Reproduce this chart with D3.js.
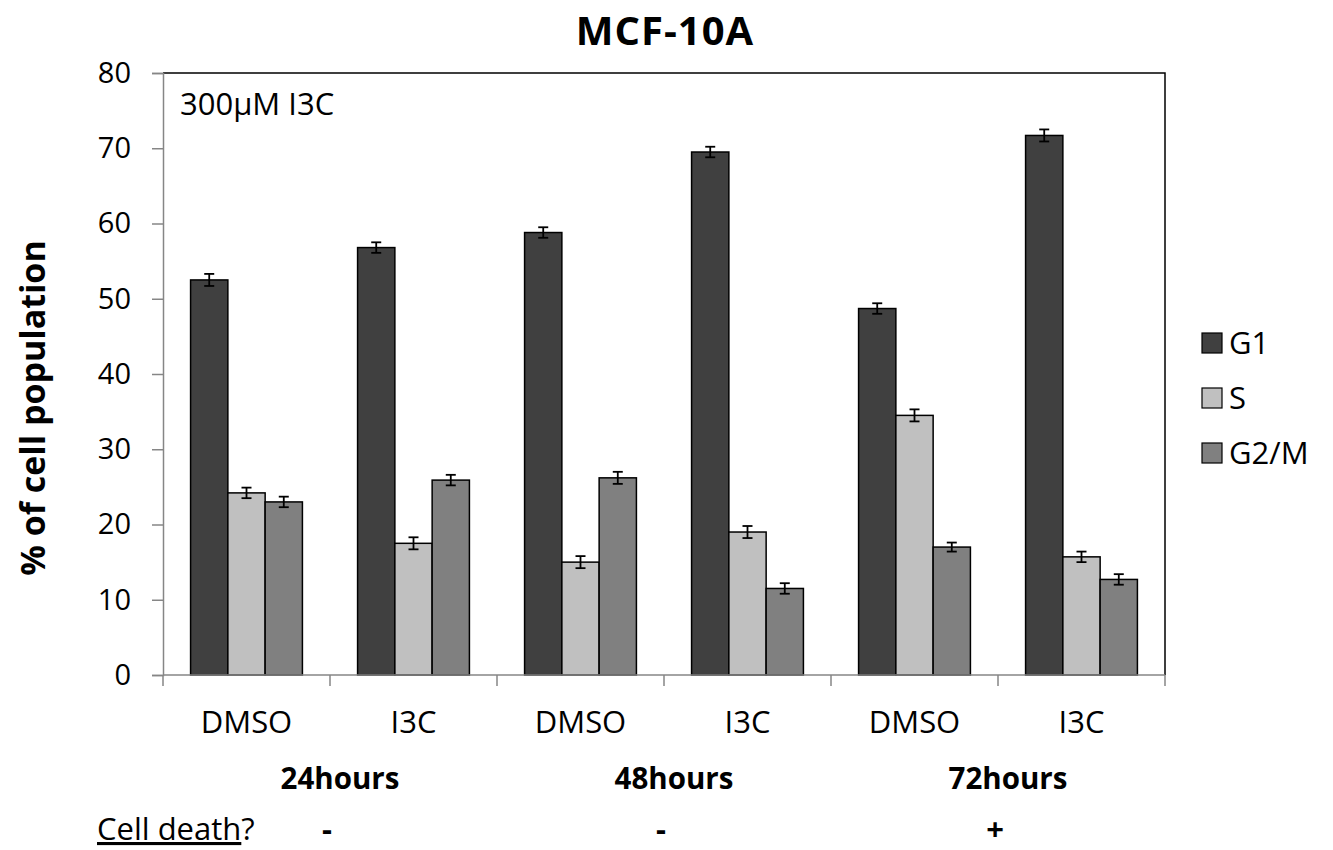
<!DOCTYPE html>
<html>
<head>
<meta charset="utf-8">
<script src="https://cdn.jsdelivr.net/npm/d3@7"></script>
<style>
  body { margin: 0; background: #fff; }
  svg { display: block; font-family: 'Open Sans', sans-serif; }
</style>
</head>
<body>
<div id="chart"></div>
<script>
// data
const conditions = ['24h-DMSO', '24h-I3C', '48h-DMSO', '48h-I3C', '72h-DMSO', '72h-I3C'];
const treatLabels = ['DMSO', 'I3C', 'DMSO', 'I3C', 'DMSO', 'I3C'];
const phases = ['G1', 'S', 'G2/M'];
const g1 = [52.5, 56.8, 58.8, 69.5, 48.7, 71.7];
const sPhase = [24.2, 17.5, 15.0, 19.0, 34.5, 15.7];
const g2m = [23.0, 25.9, 26.2, 11.5, 17.0, 12.7];
const g1Err = [0.8, 0.7, 0.7, 0.7, 0.7, 0.8];
const sErr = [0.7, 0.8, 0.8, 0.8, 0.8, 0.7];
const g2mErr = [0.7, 0.7, 0.8, 0.7, 0.6, 0.7];
const timepoints = ['24hours', '48hours', '72hours'];
const cellDeath = ['-', '-', '+'];
const yTicks = [0, 10, 20, 30, 40, 50, 60, 70, 80];

const colors = { 'G1': '#404040', 'S': '#c0c0c0', 'G2/M': '#808080' };

const rows = conditions.map((c, i) => ({
  cond: c,
  values: [
    { phase: 'G1', value: g1[i], err: g1Err[i] },
    { phase: 'S', value: sPhase[i], err: sErr[i] },
    { phase: 'G2/M', value: g2m[i], err: g2mErr[i] },
  ],
}));

const width = 1333;
const height = 850;
const area = { left: 163, right: 1165, top: 73, bottom: 675 };

const svg = d3.select('#chart')
  .append('svg')
  .attr('width', width)
  .attr('height', height);

const x0 = d3.scaleBand()
  .domain(conditions)
  .range([area.left, area.right]);

const x1 = d3.scaleBand()
  .domain(phases)
  .range([0, x0.bandwidth()])
  .paddingOuter(0.74);

const y = d3.scaleLinear()
  .domain([0, 80])
  .range([area.bottom, area.top]);

// plot frame: top and right black
svg.append('path')
  .attr('d', `M${area.left},${area.top}H${area.right}V${area.bottom}`)
  .attr('fill', 'none')
  .attr('stroke', '#000')
  .attr('stroke-width', 1.5);

// y axis
const yAxis = svg.append('g')
  .attr('transform', `translate(${area.left},0)`)
  .call(d3.axisLeft(y).tickValues(yTicks).tickSize(11).tickPadding(21));
yAxis.select('.domain').attr('stroke', '#868686').attr('stroke-width', 1.5);
yAxis.selectAll('.tick line').attr('stroke', '#868686').attr('stroke-width', 1.5);
yAxis.selectAll('.tick text')
  .attr('font-size', 29)
  .attr('font-family', "'Open Sans', sans-serif")
  .attr('fill', '#000');

// bars
const groups = svg.append('g')
  .selectAll('g')
  .data(rows)
  .join('g')
  .attr('transform', (d) => `translate(${x0(d.cond)},0)`);

groups.selectAll('rect')
  .data((d) => d.values)
  .join('rect')
  .attr('x', (d) => x1(d.phase))
  .attr('y', (d) => y(d.value))
  .attr('width', x1.bandwidth())
  .attr('height', (d) => y(0) - y(d.value))
  .attr('fill', (d) => colors[d.phase])
  .attr('stroke', '#000')
  .attr('stroke-width', 1.5);

// error bars
const errG = groups.selectAll('g.err')
  .data((d) => d.values)
  .join('g')
  .attr('class', 'err')
  .attr('stroke', '#000')
  .attr('stroke-width', 1.8);

const cx = (d) => x1(d.phase) + x1.bandwidth() / 2;
errG.append('line')
  .attr('x1', cx).attr('x2', cx)
  .attr('y1', (d) => y(d.value + d.err))
  .attr('y2', (d) => y(d.value - d.err));
errG.append('line')
  .attr('x1', (d) => cx(d) - 5).attr('x2', (d) => cx(d) + 5)
  .attr('y1', (d) => y(d.value + d.err))
  .attr('y2', (d) => y(d.value + d.err));
errG.append('line')
  .attr('x1', (d) => cx(d) - 5).attr('x2', (d) => cx(d) + 5)
  .attr('y1', (d) => y(d.value - d.err))
  .attr('y2', (d) => y(d.value - d.err));

// x axis with ticks between categories
const boundaries = conditions.map((c) => x0(c)).concat([area.right]);
const xAxisG = svg.append('g');
xAxisG.append('line')
  .attr('x1', area.left).attr('x2', area.right)
  .attr('y1', area.bottom).attr('y2', area.bottom)
  .attr('stroke', '#868686').attr('stroke-width', 1.5);
xAxisG.selectAll('line.tick')
  .data(boundaries)
  .join('line')
  .attr('class', 'tick')
  .attr('x1', (d) => d).attr('x2', (d) => d)
  .attr('y1', area.bottom).attr('y2', area.bottom + 11)
  .attr('stroke', '#868686').attr('stroke-width', 1.5);

svg.append('g')
  .selectAll('text')
  .data(conditions)
  .join('text')
  .attr('x', (d) => x0(d) + x0.bandwidth() / 2)
  .attr('y', 733)
  .attr('text-anchor', 'middle')
  .attr('font-size', 31)
  .text((d, i) => treatLabels[i]);

// time point labels, centred between each pair
svg.append('g')
  .selectAll('text')
  .data(timepoints)
  .join('text')
  .attr('x', (d, i) => x0(conditions[i * 2 + 1]) + 10)
  .attr('y', 789)
  .attr('text-anchor', 'middle')
  .attr('font-size', 29.5)
  .attr('font-weight', 'bold')
  .text((d) => d);

svg.append('g')
  .selectAll('text')
  .data(cellDeath)
  .join('text')
  .attr('x', (d, i) => x0(conditions[i * 2 + 1]) - 3)
  .attr('y', 840)
  .attr('text-anchor', 'middle')
  .attr('font-size', 31)
  .attr('font-weight', 'bold')
  .text((d) => d);

const cd = svg.append('text')
  .attr('x', 97)
  .attr('y', 840)
  .attr('font-size', 31);
cd.append('tspan').attr('text-decoration', 'underline').text('Cell death');
cd.append('tspan').text('?');

// title
svg.append('text')
  .attr('x', 665)
  .attr('y', 45)
  .attr('text-anchor', 'middle')
  .attr('font-size', 40)
  .attr('letter-spacing', 1)
  .attr('font-weight', 'bold')
  .text('MCF-10A');

// y label
svg.append('text')
  .attr('transform', `translate(45,${(area.top + area.bottom) / 2 + 34}) rotate(-90)`)
  .attr('text-anchor', 'middle')
  .attr('font-size', 34)
  .attr('font-weight', 'bold')
  .text('% of cell population');

// annotation
svg.append('text')
  .attr('x', 180)
  .attr('y', 115)
  .attr('font-size', 31)
  .text('300µM I3C');

// legend
const legend = svg.append('g')
  .selectAll('g')
  .data(phases)
  .join('g')
  .attr('transform', (d, i) => `translate(1202,${333 + i * 55})`);
legend.append('rect')
  .attr('width', 20).attr('height', 20)
  .attr('fill', (d) => colors[d])
  .attr('stroke', '#000')
  .attr('stroke-width', 1.2);
legend.append('text')
  .attr('x', 27)
  .attr('y', 21)
  .attr('font-size', 31)
  .text((d) => d);
</script>
</body>
</html>
